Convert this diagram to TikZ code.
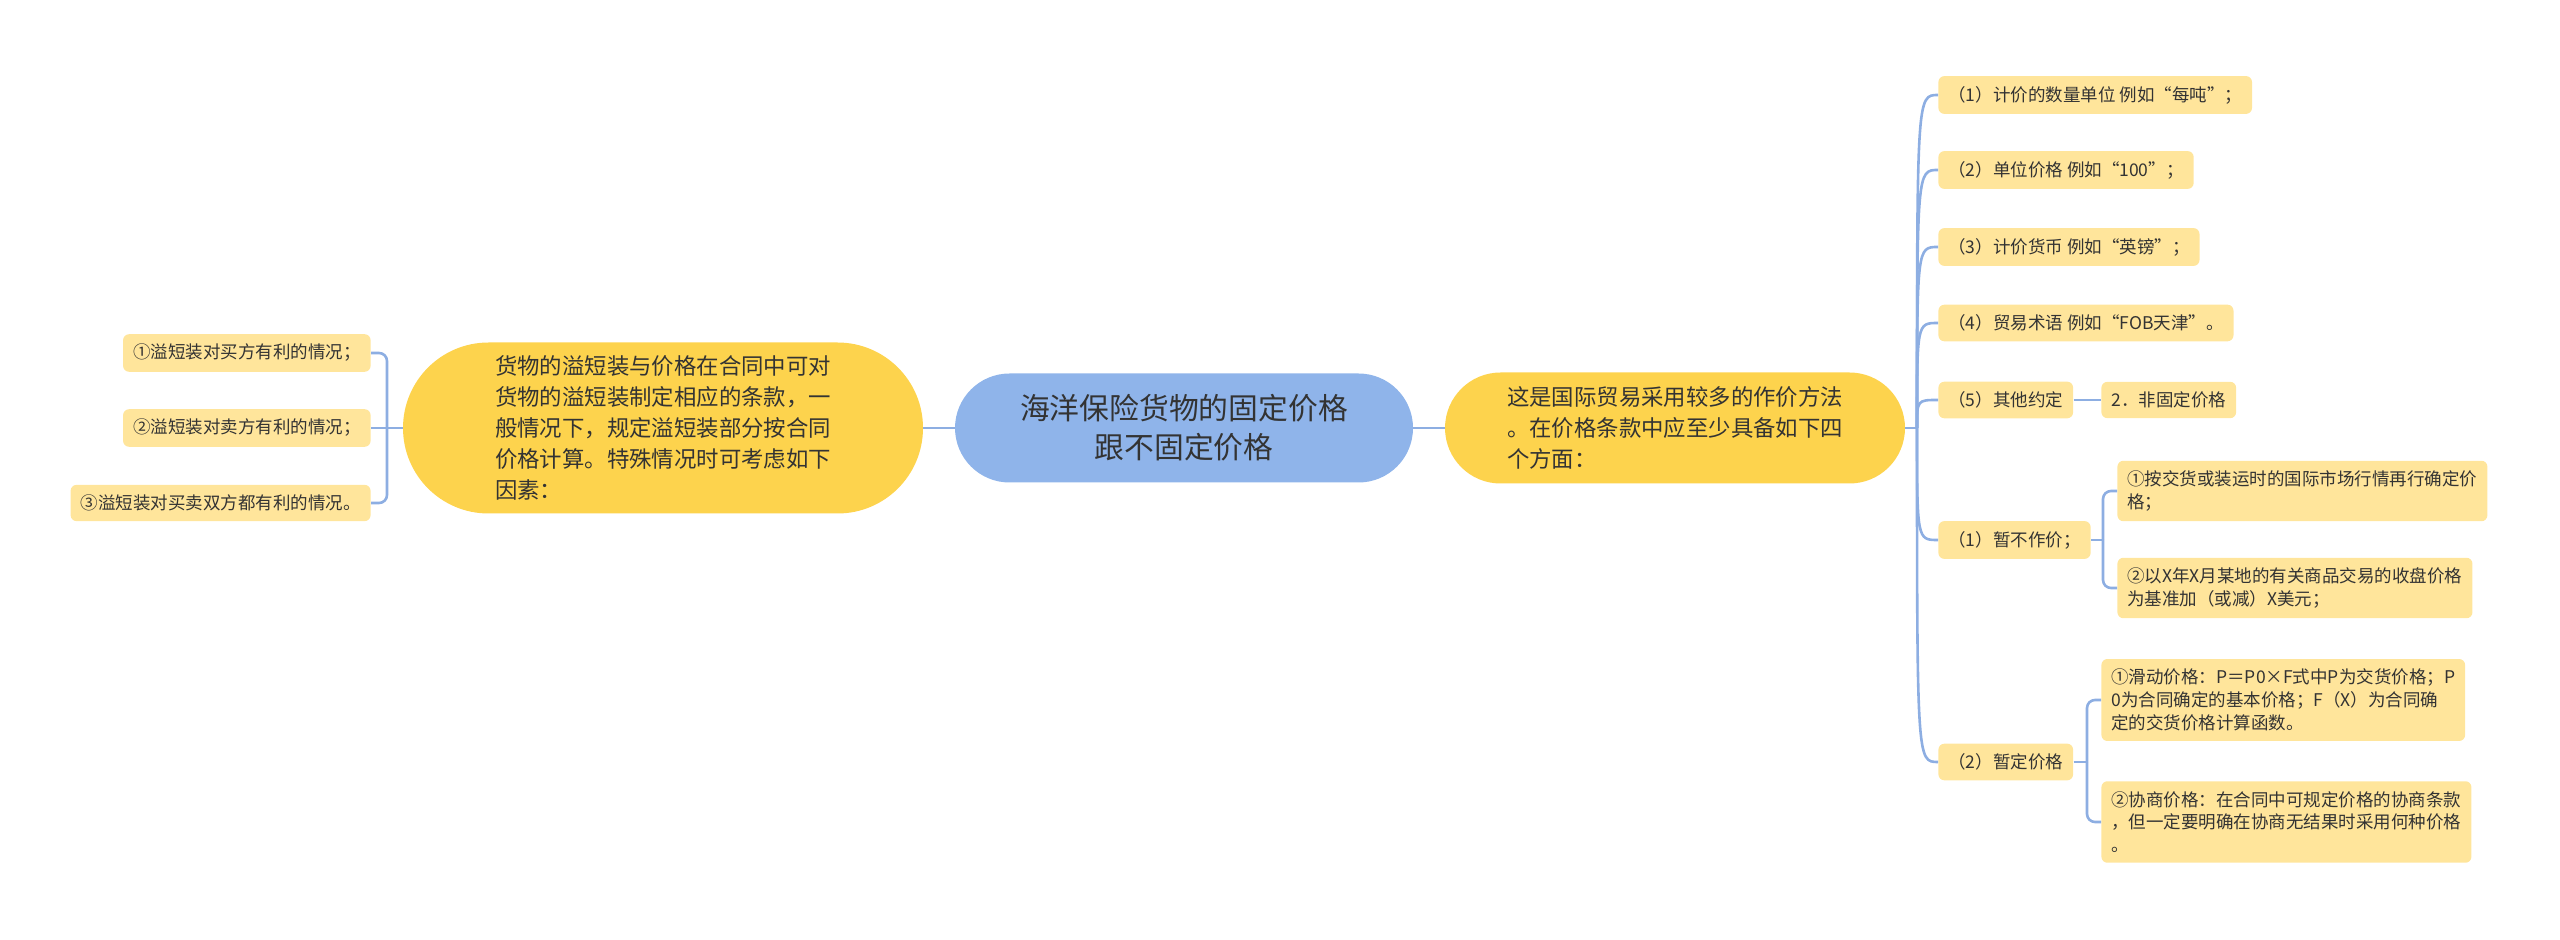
\documentclass[tikz,border=0pt]{standalone}
\usepackage{fontspec}
\setmainfont{Noto Sans CJK SC}
\usepackage{xcolor}
\usetikzlibrary{calc, positioning}
\usetikzlibrary{shapes.misc}
\definecolor{rootblue}{HTML}{8FB4EA}
\definecolor{mainyellow}{HTML}{FDD34D}
\definecolor{leafyellow}{HTML}{FFE59B}
\definecolor{linkblue}{HTML}{8DAEE2}
\definecolor{inkgray}{HTML}{333333}

\begin{document}
\begin{tikzpicture}[x=0.5pt,y=0.5pt,
  rootnode/.style={rounded rectangle, fill=rootblue, text=inkgray, align=center, font=\fontsize{14.9pt}{19.5pt}\selectfont, inner xsep=4pt},
  mainnode/.style={rounded rectangle, fill=mainyellow, text=inkgray, align=left, font=\fontsize{11.2pt}{15.5pt}\selectfont, inner xsep=4pt},
  leaf/.style={fill=leafyellow, rounded corners=3pt, text=inkgray, align=left, inner xsep=5pt, inner ysep=5pt, font=\fontsize{8.75pt}{11.4pt}\selectfont},
  link/.style={draw=linkblue, line width=1.3pt}]
\useasboundingbox (0,0) rectangle (2560,-940);
\node[rootnode, minimum height=54.5pt, minimum width=237pt] (root) at (1184,-428) {海洋保险货物的固定价格\\跟不固定价格};
\node[mainnode, minimum height=85.5pt, minimum width=268pt] (lmain) at (663,-428) {货物的溢短装与价格在合同中可对\\货物的溢短装制定相应的条款，一\\般情况下，规定溢短装部分按合同\\价格计算。特殊情况时可考虑如下\\因素：};
\node[mainnode, minimum height=55.5pt, minimum width=238pt] (rmain) at (1675,-428) {这是国际贸易采用较多的作价方法\\。在价格条款中应至少具备如下四\\个方面：};
\node[leaf, anchor=east] (l1) at (371,-353) {①溢短装对买方有利的情况；};
\node[leaf, anchor=east] (l2) at (371,-428) {②溢短装对卖方有利的情况；};
\node[leaf, anchor=east] (l3) at (371,-503) {③溢短装对买卖双方都有利的情况。};
\node[leaf, anchor=west] (r1) at (1938,-95) {（1）计价的数量单位 例如“每吨”；};
\node[leaf, anchor=west] (r2) at (1938,-170) {（2）单位价格 例如“100”；};
\node[leaf, anchor=west] (r3) at (1938,-247) {（3）计价货币 例如“英镑”；};
\node[leaf, anchor=west] (r4) at (1938,-323) {（4）贸易术语 例如“FOB天津”。};
\node[leaf, anchor=west] (r5) at (1938,-400) {（5）其他约定};
\node[leaf, anchor=west] (r5a) at (2101,-400) {2．非固定价格};
\node[leaf, anchor=west] (r6) at (1938,-540) {（1）暂不作价；};
\node[leaf, anchor=west] (r6a) at (2117,-491) {①按交货或装运时的国际市场行情再行确定价\\格；};
\node[leaf, anchor=west] (r6b) at (2117,-588) {②以X年X月某地的有关商品交易的收盘价格\\为基准加（或减）X美元；};
\node[leaf, anchor=west] (r7) at (1938,-762) {（2）暂定价格};
\node[leaf, anchor=west] (r7a) at (2101,-700) {①滑动价格：P＝P0×F式中P为交货价格；P\\0为合同确定的基本价格；F（X）为合同确\\定的交货价格计算函数。};
\node[leaf, anchor=west] (r7b) at (2101,-822) {②协商价格：在合同中可规定价格的协商条款\\，但一定要明确在协商无结果时采用何种价格\\。};
\coordinate (lj) at (387,-428);
\coordinate (rj) at (1917,-428);
\coordinate (j6) at (2103,-540);
\coordinate (j7) at (2087,-762);
\draw[link] (root.west) -- (lmain.east);
\draw[link] (root.east) -- (rmain.west);
\draw[link] (lmain.west) -- (l2.east);
\foreach \c in {l1,l3}
  \draw[link, rounded corners=4pt] (lj) |- (\c.east);
\draw[link] (rmain.east) -- (rj);
\foreach \c in {r1,r2,r3,r4,r5,r6,r7}
  \draw[link] (rj) .. controls (rj |- \c.west) .. (\c.west);
\draw[link] (r5.east) -- (r5a.west);
\draw[link] (r6.east) -- (j6);
\foreach \c in {r6a,r6b}
  \draw[link, rounded corners=4pt] (j6) |- (\c.west);
\draw[link] (r7.east) -- (j7);
\foreach \c in {r7a,r7b}
  \draw[link, rounded corners=4pt] (j7) |- (\c.west);
\end{tikzpicture}
\end{document}
